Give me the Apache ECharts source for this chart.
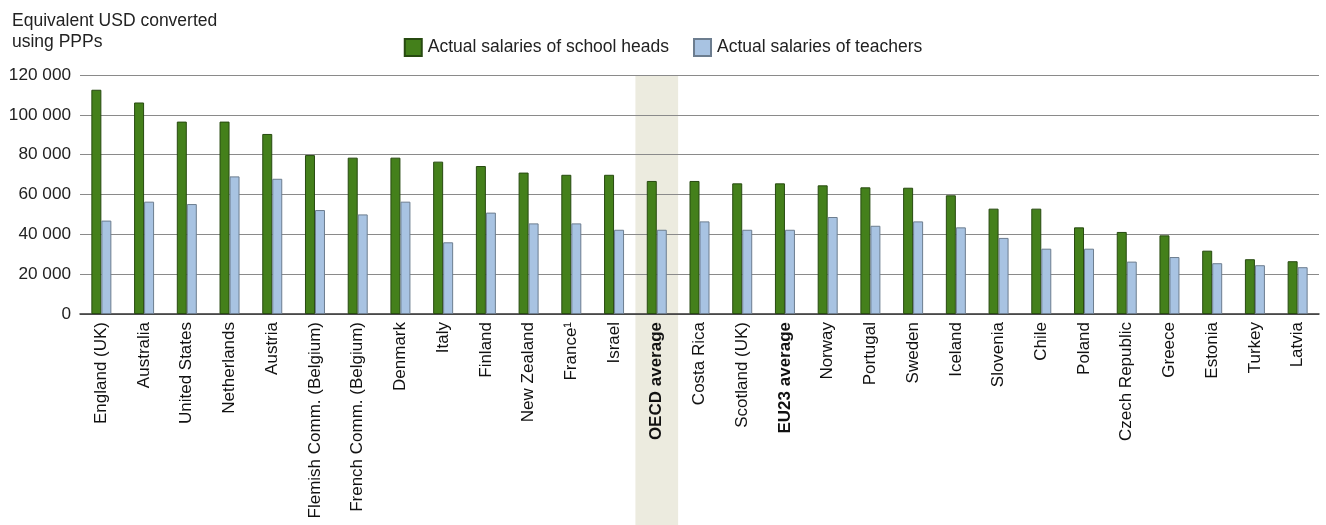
<!DOCTYPE html>
<html>
<head>
<meta charset="utf-8">
<script src="https://cdn.jsdelivr.net/npm/echarts@6/dist/echarts.min.js"></script>
<style>
html,body{margin:0;padding:0;background:#fff;}
#chart{width:1326px;height:525px;}
</style>
</head>
<body>
<div id="chart"></div>
<script>
const categories = ["England (UK)","Australia","United States","Netherlands","Austria","Flemish Comm. (Belgium)","French Comm. (Belgium)","Denmark","Italy","Finland","New Zealand","France\u00b9","Israel","OECD average","Costa Rica","Scotland (UK)","EU23 average","Norway","Portugal","Sweden","Iceland","Slovenia","Chile","Poland","Czech Republic","Greece","Estonia","Turkey","Latvia"];
const schoolHeads = [112600,106200,96600,96600,90400,79800,78500,78500,76500,74300,71000,69900,69900,66800,66800,65600,65600,64600,63600,63400,59600,52900,52900,43500,41200,39500,31800,27500,26500];
const teachers = [46900,56400,55200,69100,67900,52200,50000,56400,36000,50900,45500,45500,42300,42300,46500,42300,42300,48700,44300,46500,43500,38200,32800,32800,26300,28600,25500,24500,23500];
const yTicks = [0,20000,40000,60000,80000,100000,120000];
const highlighted = "OECD average";
const boldLabels = ["OECD average","EU23 average"];

const FONT = "'Liberation Sans',Arial,sans-serif";
const chart = echarts.init(document.getElementById('chart'), null, {renderer:'canvas'});

function fmt(v){ return String(v).replace(/\B(?=(\d{3})+(?!\d))/g,' '); }

const option = {
  animation:false,
  backgroundColor:'#ffffff',
  textStyle:{fontFamily:FONT},
  title:{
    text:'Equivalent USD converted\nusing PPPs',
    left:7, top:6,
    textStyle:{fontFamily:FONT,fontSize:17.5,fontWeight:'normal',color:'#222',lineHeight:21}
  },
  legend:{
    top:33, left:'center',
    icon:'rect',
    itemWidth:17, itemHeight:17, itemGap:24,
    textStyle:{fontFamily:FONT,fontSize:17.5,color:'#222',padding:[0,0,0,1]},
    data:['Actual salaries of school heads','Actual salaries of teachers']
  },
  grid:{left:80,right:7,top:75,bottom:211,containLabel:false,outerBoundsMode:'none'},
  xAxis:{
    type:'category',
    data:categories,
    axisLine:{show:true,lineStyle:{color:'#333',width:1.5}},
    axisTick:{show:false},
    axisLabel:{
      rotate:90, interval:0, margin:8,
      fontFamily:FONT, fontSize:17, color:'#111',
      formatter:function(v){ return boldLabels.indexOf(v)>=0 ? '{b|'+v+'}' : v; },
      rich:{b:{fontFamily:FONT,fontSize:17,fontWeight:'bold',color:'#111'}}
    }
  },
  yAxis:{
    type:'value', min:0, max:120000, interval:20000,
    axisLine:{show:false}, axisTick:{show:false},
    splitLine:{lineStyle:{color:'#8a8a8a',width:1.2}},
    axisLabel:{
      margin:9, fontFamily:FONT, fontSize:17.2, color:'#222',
      customValues: yTicks,
      formatter:function(v){ return fmt(v); }
    }
  },
  series:[
    {
      name:'Actual salaries of school heads', type:'bar',
      data:schoolHeads, barWidth:10, barGap:'0%',
      itemStyle:{color:'#44801b',borderColor:'#274a10',borderWidth:1}
    },
    {
      name:'Actual salaries of teachers', type:'bar',
      data:teachers, barWidth:10, barGap:'0%',
      itemStyle:{color:'#a8c3e2',borderColor:'#6c7d8f',borderWidth:1}
    }
  ]
};
chart.setOption(option);

// highlight band for OECD average, computed through the axis scale
const cx = chart.convertToPixel({xAxisIndex:0}, highlighted);
const gridModel = chart.getModel().getComponent('grid',0);
const rect = gridModel.coordinateSystem.getRect();
const bandW = rect.width / categories.length;
chart.setOption({
  graphic:[{
    type:'rect', z:-10, silent:true,
    shape:{x:cx-bandW/2, y:rect.y, width:bandW, height:525-rect.y},
    style:{fill:'#ecebdf'}
  }]
});
</script>
</body>
</html>
